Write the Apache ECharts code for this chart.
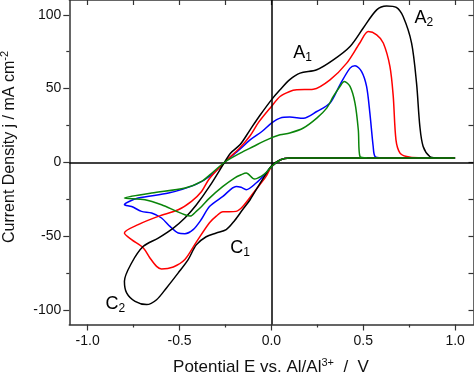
<!DOCTYPE html>
<html>
<head>
<meta charset="utf-8">
<script src="https://cdn.jsdelivr.net/npm/echarts@6/dist/echarts.min.js"></script>
<style>
  html, body { margin: 0; padding: 0; background: #fff; }
  #cv-chart { width: 474px; height: 375px; }
</style>
</head>
<body>
<div id="cv-chart"></div>
<script>
// cyclic voltammograms, [E (V), j (mA cm-2)] in sweep order
var blackCV = [
  [1.0, 2.8], [0.6, 2.8], [0.3, 2.8], [0.1, 2.8], [0.05, 1.7], [0.0, -2.5], [-0.03, -8],
  [-0.061, -14.1], [-0.116, -25.4], [-0.156, -32], [-0.2, -39.5], [-0.246, -45.7], [-0.3, -48],
  [-0.355, -50.5], [-0.409, -56], [-0.453, -66], [-0.507, -75], [-0.571, -85.2], [-0.625, -93.2],
  [-0.679, -96.5], [-0.742, -94.3], [-0.788, -88.6], [-0.8, -80.7], [-0.761, -68.3], [-0.697, -57],
  [-0.616, -51.4], [-0.534, -44.6], [-0.471, -37.8], [-0.409, -29], [-0.337, -16.4], [-0.255, 0],
  [-0.224, 6], [-0.17, 12], [-0.116, 22], [-0.061, 32], [0.0, 42.3], [0.047, 49.1], [0.1, 56],
  [0.156, 60.4], [0.247, 62.7], [0.337, 69.4], [0.428, 78.5], [0.5, 91], [0.573, 103.3],
  [0.627, 106], [0.68, 105], [0.717, 98.8], [0.763, 80.8], [0.79, 53.6], [0.808, 24.3],
  [0.826, 10.7], [0.862, 3.9], [0.9, 3], [1.0, 2.8]
];
var redCV = [
  [1.0, 2.8], [0.6, 2.8], [0.1, 2.8], [0.05, 1.7], [0.0, -3], [-0.029, -9.6], [-0.092, -19.8],
  [-0.156, -30], [-0.192, -33.3], [-0.23, -33.5], [-0.264, -33.5], [-0.3, -36.5], [-0.337, -41],
  [-0.408, -54], [-0.471, -66], [-0.534, -71], [-0.598, -72.4], [-0.625, -70.6], [-0.661, -64.9],
  [-0.697, -58.1], [-0.761, -52.5], [-0.8, -48], [-0.725, -42.3], [-0.616, -36.7], [-0.507, -32.2],
  [-0.435, -26.5], [-0.38, -19.8], [-0.337, -11], [-0.255, 0], [-0.17, 10], [-0.116, 18],
  [-0.07, 27], [0.0, 37.8], [0.047, 44.6], [0.1, 48], [0.138, 49.1], [0.228, 49.5], [0.319, 55.9],
  [0.41, 67.2], [0.482, 81], [0.527, 88.6], [0.573, 86.4], [0.609, 80.8], [0.645, 65],
  [0.663, 45], [0.678, 15.2], [0.7, 6.2], [0.736, 3.9], [0.8, 3], [1.0, 2.8]
];
var blueCV = [
  [1.0, 2.8], [0.6, 2.8], [0.1, 2.8], [0.05, 1.7], [0.0, -3], [-0.029, -7.3], [-0.083, -14.1],
  [-0.137, -18.6], [-0.165, -17], [-0.192, -16.4], [-0.264, -23.2], [-0.337, -30], [-0.38, -38.5],
  [-0.426, -45.7], [-0.471, -48.4], [-0.507, -48], [-0.552, -43.5], [-0.598, -37.8], [-0.652, -34.4],
  [-0.707, -33.3], [-0.761, -30], [-0.8, -28.8], [-0.725, -24.3], [-0.56, -20.9], [-0.41, -15],
  [-0.33, -9], [-0.255, 0], [-0.17, 9], [-0.116, 15.2], [-0.05, 21], [0.0, 26.5], [0.047, 29.9],
  [0.1, 30.6], [0.174, 29.9], [0.247, 34.4], [0.319, 40.1], [0.373, 52.5], [0.428, 63.8],
  [0.455, 65.4], [0.491, 61.5], [0.518, 51.4], [0.536, 33.3], [0.554, 10.7], [0.564, 3.9],
  [0.6, 3], [1.0, 2.8]
];
var greenCV = [
  [1.0, 2.8], [0.6, 2.8], [0.1, 2.8], [0.05, 1.7], [0.0, -3], [-0.029, -7], [-0.056, -9.6],
  [-0.092, -11.4], [-0.137, -7.3], [-0.165, -8.5], [-0.201, -10.7], [-0.264, -16.4], [-0.337, -24.3],
  [-0.38, -30], [-0.409, -33.3], [-0.442, -36.5], [-0.471, -35.6], [-0.516, -33.3], [-0.598, -28.8],
  [-0.688, -25.4], [-0.8, -24.3], [-0.652, -20.9], [-0.47, -17.5], [-0.38, -13], [-0.33, -8],
  [-0.255, 0], [-0.17, 6.2], [-0.098, 10.7], [-0.025, 15.2], [0.047, 18.6], [0.1, 19.8],
  [0.174, 23.2], [0.247, 29.9], [0.301, 36.7], [0.337, 44.6], [0.373, 51.4], [0.397, 54.7],
  [0.428, 51.4], [0.455, 40.1], [0.473, 22], [0.482, 3.9], [0.52, 3], [1.0, 2.8]
];

var xMajor = [-1.0, -0.5, 0.0, 0.5, 1.0];
var xMinor = [-0.75, -0.25, 0.25, 0.75];
var yMajor = [-100, -50, 0, 50, 100];
var yMinor = [-75, -25, 25, 75];

// peak labels: [E, j, letter, index]
var peakLabels = [
  [0.17, 74, 'A', '1'],
  [0.83, 98, 'A', '2'],
  [-0.17, -58, 'C', '1'],
  [-0.85, -96, 'C', '2']
];

var FONT = 'Liberation Sans, Arial, sans-serif';
var frameLine = { show: true, onZero: false, lineStyle: { color: '#333', width: 1.5 } };
var allX = xMajor.concat(xMinor);
var allY = yMajor.concat(yMinor);
var titleRich = {
  n: { fontSize: 16, fontFamily: FONT, fill: '#111', lineHeight: 20 },
  p: { fontSize: 11, fontFamily: FONT, fill: '#111', verticalAlign: 'top', lineHeight: 11 }
};

var chart = echarts.init(document.getElementById('cv-chart'));

var option = {
  animation: false,
  grid: { left: 69.3, right: 0.5, top: 0, bottom: 50.5, containLabel: false, outerBoundsMode: 'none' },
  graphic: [
    {
      type: 'text', x: 271, y: 367,
      style: {
        text: '{n|Potential E vs. Al/Al}{p|3+}{n|  /  V}',
        rich: {
          n: { fontSize: 17, fontFamily: FONT, fill: '#111', lineHeight: 20 },
          p: { fontSize: 11, fontFamily: FONT, fill: '#111', verticalAlign: 'top', lineHeight: 11 }
        },
        align: 'center', verticalAlign: 'middle'
      }
    },
    {
      type: 'text', x: 9.5, y: 147, rotation: Math.PI / 2,
      style: {
        text: '{n|Current Density j / mA cm}{p|-2}',
        rich: titleRich,
        align: 'center', verticalAlign: 'middle'
      }
    }
  ],
  xAxis: [
    {
      type: 'value', min: -1.1, max: 1.1, position: 'bottom',
      axisLine: frameLine,
      axisTick: { customValues: xMajor, length: 6, lineStyle: { color: '#333', width: 1.2 } },
      axisLabel: {
        customValues: xMajor, margin: 10, color: '#111', fontSize: 14, fontFamily: FONT,
        formatter: function (v) { return v.toFixed(1); }
      },
      splitLine: { show: false }
    },
    {
      type: 'value', min: -1.1, max: 1.1, position: 'bottom',
      axisLine: { show: false, onZero: false },
      axisTick: { customValues: xMinor, length: 3, lineStyle: { color: '#333', width: 1.2 } },
      axisLabel: { show: false }, splitLine: { show: false }
    },
    {
      type: 'value', min: -1.1, max: 1.1, position: 'top',
      axisLine: frameLine,
      axisTick: { customValues: allX, inside: true, length: 5, lineStyle: { color: '#333', width: 1.2 } },
      axisLabel: { show: false }, splitLine: { show: false }
    }
  ],
  yAxis: [
    {
      type: 'value', min: -110, max: 110, position: 'left',
      axisLine: frameLine,
      axisTick: { customValues: yMajor, length: 6, lineStyle: { color: '#333', width: 1.2 } },
      axisLabel: { customValues: yMajor, margin: 8, color: '#111', fontSize: 14, fontFamily: FONT },
      splitLine: { show: false }
    },
    {
      type: 'value', min: -110, max: 110, position: 'left',
      axisLine: { show: false, onZero: false },
      axisTick: { customValues: yMinor, length: 3, lineStyle: { color: '#333', width: 1.2 } },
      axisLabel: { show: false }, splitLine: { show: false }
    },
    {
      type: 'value', min: -110, max: 110, position: 'right',
      axisLine: frameLine,
      axisTick: { customValues: allY, inside: true, length: 5, lineStyle: { color: '#333', width: 1.2 } },
      axisLabel: { show: false }, splitLine: { show: false }
    }
  ],
  series: [
    {
      type: 'line', data: [], z: 1,
      markLine: {
        silent: true, symbol: 'none', animation: false,
        label: { show: false },
        lineStyle: { color: '#000', width: 1.5, type: 'solid' },
        data: [{ xAxis: 0 }, { yAxis: 0 }]
      }
    },
    { name: 'black', type: 'line', data: blackCV, showSymbol: false, smooth: 0.3, z: 5,
      lineStyle: { color: '#000000', width: 1.5 } },
    { name: 'red', type: 'line', data: redCV, showSymbol: false, smooth: 0.3, z: 4,
      lineStyle: { color: '#ff0000', width: 1.5 } },
    { name: 'blue', type: 'line', data: blueCV, showSymbol: false, smooth: 0.3, z: 3,
      lineStyle: { color: '#0000ff', width: 1.5 } },
    { name: 'green', type: 'line', data: greenCV, showSymbol: false, smooth: 0.3, z: 6,
      lineStyle: { color: '#0a850a', width: 1.5 } },
    {
      type: 'scatter', data: peakLabels, symbolSize: 0, z: 10,
      itemStyle: { opacity: 1 },
      label: {
        show: true, position: 'inside', color: '#000',
        formatter: function (p) { return '{m|' + p.data[2] + '}{s|' + p.data[3] + '}'; },
        rich: {
          m: { fontSize: 18, fontFamily: FONT, color: '#000', lineHeight: 22 },
          s: { fontSize: 12, fontFamily: FONT, color: '#000', verticalAlign: 'bottom', lineHeight: 12 }
        }
      }
    }
  ]
};

chart.setOption(option);
</script>
</body>
</html>
